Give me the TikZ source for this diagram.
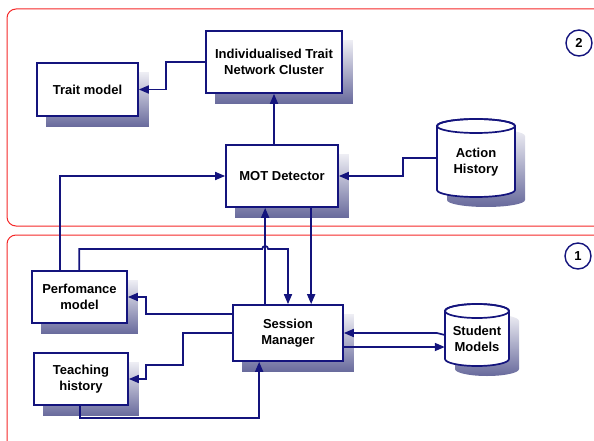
\documentclass[tikz,border=0pt]{standalone}
\usepackage{fontspec}
\setmainfont{Liberation Sans}
\usetikzlibrary{calc,backgrounds,arrows.meta}
\definecolor{navy}{RGB}{20,20,125}
\definecolor{shdark}{RGB}{104,106,156}
\definecolor{shlight}{RGB}{238,238,244}
\definecolor{framered}{RGB}{245,40,40}
\begin{document}
\begin{tikzpicture}[x=1pt,y=1pt,
  box/.style={draw=navy,line width=1.7pt,fill=white,rectangle,align=center,
    font=\fontsize{13}{15.5}\selectfont\bfseries,inner sep=0pt},
  shadowbox/.style={top color=shlight,bottom color=shdark,draw=none},
  conn/.style={draw=navy,line width=1.7pt,-{Triangle[length=10pt,width=8pt]}},
  frame/.style={draw=framered,line width=1pt,rounded corners=9pt},
  numcirc/.style={circle,draw=navy,line width=1.4pt,minimum size=26pt,inner sep=0pt,
    font=\fontsize{13}{14}\selectfont\bfseries},
  cyltext/.style={rectangle,inner sep=0pt,align=center,
    font=\fontsize{13}{15.5}\selectfont\bfseries}]
\useasboundingbox (0,0) rectangle (594,-441);
\clip (0,0) rectangle (594,-441);
% frames
\draw[frame] (7,-9) rectangle (640,-226);
\draw[frame] (7,-235) rectangle (640,-470);
\node[numcirc] (n2) at (579,-43) {2};
\node[numcirc] (n1) at (578,-256) {1};

% boxes
\node[box,minimum width=101pt,minimum height=53pt] (tm) at (87.5,-89.5) {Trait model};
\node[box,minimum width=136pt,minimum height=62pt] (itnc) at (274,-62) {Individualised Trait\\Network Cluster};
\node[box,minimum width=112pt,minimum height=62pt] (mot) at (282,-176) {MOT Detector};
\node[box,minimum width=95pt,minimum height=52pt] (pm) at (79.5,-297) {Perfomance\\model};
\node[box,minimum width=94pt,minimum height=52pt] (th) at (81,-379) {Teaching\\history};
\node[box,minimum width=110pt,minimum height=56pt] (sm) at (288,-333) {Session\\Manager};

% cylinders (drawn directly), with named nodes for their text
\shade[shadowbox] (447,-136) -- (447,-200) arc (180:360:39 and 7) -- (525,-136) arc (0:180:39 and 7) -- cycle;
\filldraw[fill=white,draw=navy,line width=1.7pt] (437,-126) -- (437,-190) arc (180:360:39 and 7) -- (515,-126) arc (0:180:39 and 7) -- cycle;
\draw[navy,line width=1.7pt] (476,-126) ellipse (39 and 7);
\node[cyltext,minimum width=78pt,minimum height=70pt] (ah) at (476,-162) {Action\\History};
\shade[shadowbox] (455,-321) -- (455,-369) arc (180:360:32 and 7) -- (519,-321) arc (0:180:32 and 7) -- cycle;
\filldraw[fill=white,draw=navy,line width=1.7pt] (445,-311) -- (445,-359) arc (180:360:32 and 7) -- (509,-311) arc (0:180:32 and 7) -- cycle;
\draw[navy,line width=1.7pt] (477,-311) ellipse (32 and 7);
\node[cyltext,minimum width=64pt,minimum height=56pt] (smod) at (477,-339) {Student\\Models};

% shadows of boxes
\begin{scope}[on background layer]
\foreach \n in {tm,itnc,mot,pm,th,sm}{
  \shade[shadowbox] ($(\n.south west)+(10,-10)$) rectangle ($(\n.north east)+(10,-10)$);
}
\end{scope}

% connectors
\draw[conn] (itnc.west) -- ++(-39,0) |- (tm.east);
\draw[conn] (mot.north -| itnc.south) -- (itnc.south);
\draw[conn] ($(pm.north west)+(29,0)$) |- (mot.west);
\draw[conn] ($(ah.west)+(0,4)$) -- ++(-34,0) |- (mot.east);
\coordinate (upA) at ($(sm.north west)+(33,0)$);
\draw[conn] (upA) -- (upA |- mot.south);
\coordinate (dnA) at ($(mot.south west)+(86,0)$);
\draw[conn] (dnA) -- (dnA |- sm.north);
\coordinate (hy) at (0,-249);
\coordinate (pmt) at ($(pm.north west)+(48,0)$);
\draw[conn] (pmt) -- (pmt |- hy) -- ($(upA |- hy)+(-3,0)$) arc (180:0:3) -| (sm.north);
\draw[conn] ($(sm.west)+(0,19)$) -- ++(-86,0) |- (pm.east);
\draw[conn] (sm.west) -- ++(-49,0) -- ++(0,-32) -- ++(-37,0) |- (th.east);
\draw[conn] ($(th.south west)+(47,0)$) -- ++(0,-12) -| ($(sm.south west)+(27,0)$);
\draw[conn] ($(smod.west)+(0,4)$) -- ++(-8,2) -- (sm.east);
\draw[conn] ($(sm.east)+(0,-14)$) -- ($(smod.west)+(0,-8)$);
\end{tikzpicture}
\end{document}
